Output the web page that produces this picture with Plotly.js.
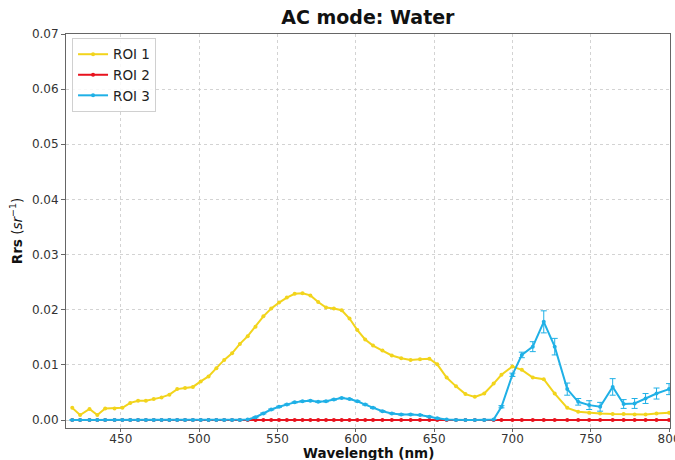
<!DOCTYPE html>
<html>
<head>
<meta charset="utf-8">
<script src="https://cdn.plot.ly/plotly-3.0.1.min.js"></script>
<style>html,body{margin:0;padding:0;background:#fff;}#chart{width:675px;height:460px;}</style>
</head>
<body>
<div id="chart"></div>
<script>
const wavelengths = [419, 424, 430, 435, 440, 446, 451, 456, 461, 466, 471, 476, 481, 486, 491, 496, 501, 506, 511, 516, 521, 526, 531, 536, 541, 546, 551, 556, 561, 566, 571, 576, 581, 586, 591, 596, 601, 606, 611, 617, 623, 629, 635, 641, 647, 652, 658, 664, 670, 676, 682, 688, 693, 700, 706, 713, 720, 727, 735, 742, 749, 756, 764, 771, 778, 785, 792, 800];

const roi1 = [0.0022, 0.0009, 0.0020, 0.0009, 0.0021, 0.0021, 0.0022, 0.0031, 0.0035, 0.0035, 0.0038, 0.0041, 0.0046, 0.0056, 0.0058, 0.0060, 0.0070, 0.0079, 0.0094, 0.0109, 0.0121, 0.0138, 0.0152, 0.0169, 0.0188, 0.0202, 0.0213, 0.0222, 0.0229, 0.0230, 0.0226, 0.0214, 0.0204, 0.0202, 0.0199, 0.0184, 0.0163, 0.0146, 0.0135, 0.0126, 0.0117, 0.0112, 0.0109, 0.0110, 0.0111, 0.0101, 0.0077, 0.0061, 0.0047, 0.0042, 0.0048, 0.0066, 0.0082, 0.0097, 0.0091, 0.0077, 0.0074, 0.0048, 0.0022, 0.0015, 0.0013, 0.0012, 0.0011, 0.0011, 0.0010, 0.0010, 0.0012, 0.0013];

const roi2 = [0, 0, 0, 0, 0, 0, 0, 0, 0, 0, 0, 0, 0, 0, 0, 0, 0, 0, 0, 0, 0, 0, 0, 0, 0, 0, 0, 0, 0, 0, 0, 0, 0, 0, 0, 0, 0, 0, 0, 0, 0, 0, 0, 0, 0, 0, 0, 0, 0, 0, 0, 0, 0, 0, 0, 0, 0, 0, 0, 0, 0, 0, 0, 0, 0, 0, 0, 0];

const roi3 = [0, 0, 0, 0, 0, 0, 0, 0, 0, 0, 0, 0, 0, 0, 0, 0, 0, 0, 0, 0, 0, 0, 0.0001, 0.0005, 0.0012, 0.0019, 0.0024, 0.0028, 0.0032, 0.0034, 0.0035, 0.0033, 0.0034, 0.0037, 0.0040, 0.0038, 0.0034, 0.0028, 0.0022, 0.0016, 0.0012, 0.0010, 0.0010, 0.0009, 0.0006, 0.0003, 0.0001, 0, 0, 0, 0, 0.0001, 0.0024, 0.0082, 0.0118, 0.0133, 0.0178, 0.0133, 0.0056, 0.0033, 0.0027, 0.0024, 0.0060, 0.0029, 0.0030, 0.0039, 0.0048, 0.0056];

const roi3err = [0, 0, 0, 0, 0, 0, 0, 0, 0, 0, 0, 0, 0, 0, 0, 0, 0, 0, 0, 0, 0, 0, 0, 0.0001, 0.0001, 0.0001, 0.0001, 0.0001, 0.0001, 0.0001, 0.0001, 0.0001, 0.0001, 0.0001, 0.0001, 0.0001, 0.0001, 0.0001, 0.0001, 0.0001, 0.0001, 0.0001, 0.0001, 0.0001, 0.0001, 0.0001, 0, 0, 0, 0, 0, 0, 0.0002, 0.0003, 0.0005, 0.0009, 0.0020, 0.0015, 0.0011, 0.0006, 0.0008, 0.0008, 0.0015, 0.0008, 0.0009, 0.0009, 0.0010, 0.0010];

const seriesNames = ['ROI 1', 'ROI 2', 'ROI 3'];
const xTickVals = [450, 500, 550, 600, 650, 700, 750, 800];
const colors = ['#f2d41c', '#e8121e', '#1fb0e6'];

function trace(name, y, color, err) {
  const t = {
    x: wavelengths, y: y, name: name, type: 'scatter', mode: 'lines+markers',
    line: {color: color, width: 2},
    marker: {color: color, size: 4}
  };
  if (err) {
    t.error_y = {type: 'data', array: err, visible: true, color: color, thickness: 1, width: 3};
  }
  return t;
}

const data = [
  trace(seriesNames[0], roi1, colors[0]),
  trace(seriesNames[1], roi2, colors[1]),
  trace(seriesNames[2], roi3, colors[2], roi3err)
];

const layout = {
  width: 675, height: 460,
  margin: {l: 66, r: 5, t: 34, b: 32},
  paper_bgcolor: '#fff', plot_bgcolor: '#fff',
  font: {family: 'DejaVu Sans, sans-serif', size: 12, color: '#333'},
  title: {text: '<b>AC mode: Water</b>', font: {size: 19, color: '#111'}, x: 0.545, xanchor: 'center', y: 0.962, yanchor: 'middle'},
  showlegend: true,
  legend: {x: 0.01, y: 0.99, xanchor: 'left', yanchor: 'top', bgcolor: 'rgba(255,255,255,0.85)', bordercolor: '#d0d0d0', borderwidth: 1, font: {size: 13.5, color: '#222'}, tracegroupgap: 0, itemwidth: 30},
  xaxis: {
    range: [415, 800.6], tickvals: xTickVals, zeroline: false,
    showgrid: true, gridcolor: '#c8c8c8', griddash: '3px,3px', gridwidth: 0.8,
    showline: true, linecolor: '#666', linewidth: 1, mirror: true,
    ticks: 'outside', ticklen: 3, tickcolor: '#666',
    ticklabelstandoff: -3,
    ticklabeloverflow: 'allow',
    tickfont: {size: 12, color: '#333'}
  },
  yaxis: {
    range: [-0.00145, 0.07], dtick: 0.01, tick0: 0, tickformat: '.2f', zeroline: false,
    showgrid: true, gridcolor: '#c8c8c8', griddash: '3px,3px', gridwidth: 0.8,
    showline: true, linecolor: '#666', linewidth: 1, mirror: true,
    ticks: 'outside', ticklen: 4, tickcolor: '#666',
    tickfont: {size: 12, color: '#333'},
    title: {text: '<b>Rrs</b> (<i>sr</i><sup>−1</sup>)', font: {size: 13.5, color: '#111'}, standoff: 6}
  },
  annotations: [{
    text: '<b>Wavelength (nm)</b>', xref: 'paper', yref: 'paper', x: 0.5, y: -0.0635,
    xanchor: 'center', yanchor: 'middle', showarrow: false,
    font: {size: 13.5, color: '#111'}
  }]
};

Plotly.newPlot('chart', data, layout, {displayModeBar: false, staticPlot: true});
</script>
</body>
</html>
